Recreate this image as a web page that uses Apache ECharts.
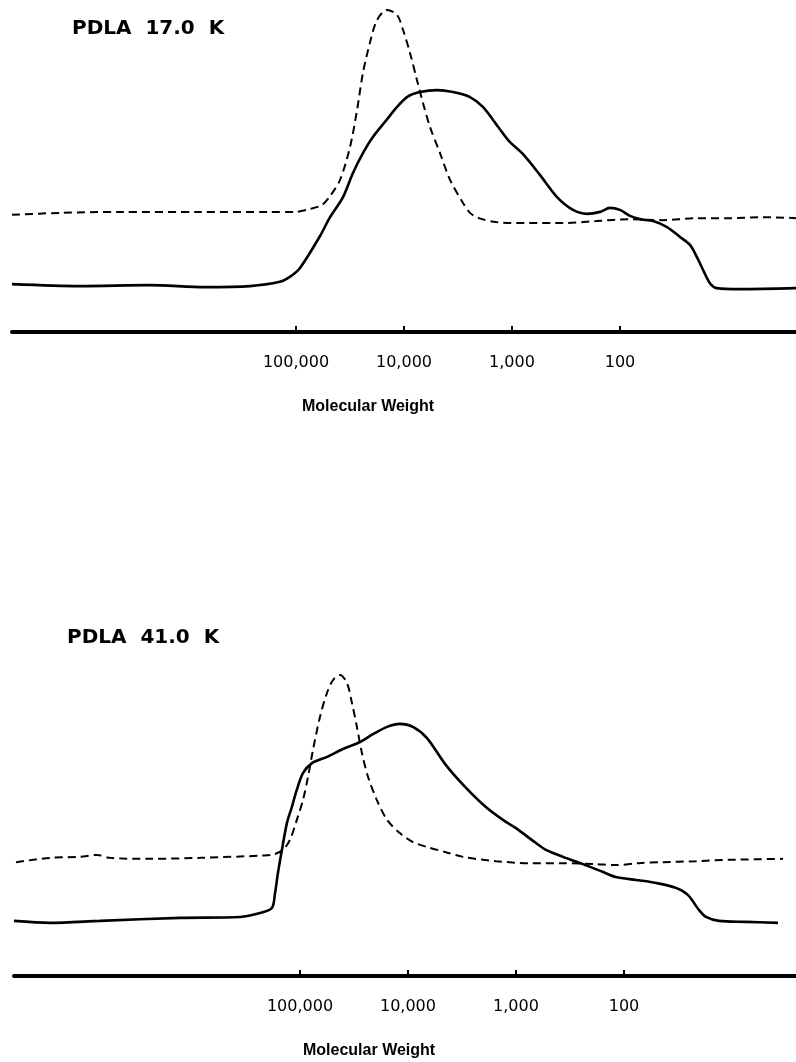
<!DOCTYPE html>
<html>
<head>
<meta charset="utf-8">
<script src="https://cdn.jsdelivr.net/npm/echarts@6/dist/echarts.min.js"></script>
<style>
html,body{margin:0;padding:0;background:#fff;}
#c{width:796px;height:1062px;}
</style>
</head>
<body>
<div id="c"></div>
<script>
// ---- Data (molecular weight, detector signal in arbitrary units) ----
var tickValues = [100000, 10000, 1000, 100];
var titles = ['PDLA  17.0  K', 'PDLA  41.0  K'];
var axisName = 'Molecular Weight';

// Panel 1: PDLA 17.0 K
var mw17Solid = [42600000,10000000,2250000,697000,267000,141000,114000,91900,59900,48400,36700,29700,24000,19400,14400,11600,9380,7110,4940,3520,2450,1860,1320,1070,791,551,383,272,202,153,124,100,80.8,65.3,49.5,36.7,27.8,22.5,19.4,17.0,14.7,12.7,7.74,2.34];
var sig17Solid = [14.5,13.9,14.2,13.6,13.9,15.2,16.7,19.4,29.1,34.8,40.9,48.2,54.2,59.1,64.4,68.2,71.2,72.7,73.3,72.7,71.2,68.2,61.8,57.9,53.9,47.6,40.9,37.0,35.8,36.4,37.6,37.0,35.2,34.2,33.6,31.8,28.8,26.4,22.7,18.8,14.8,13.3,13.0,13.3];
var mw17Dash = [42600000,15300000,4270000,774000,174000,102000,74200,57400,48400,39100,31600,27200,24000,20700,17800,14400,11600,10200,8790,7590,6670,5740,4640,3750,2840,2450,2020,1410,697,337,167,82.6,40.0,19.8,9.8,4.75,2.34];
var sig17Dash = [35.5,36.1,36.4,36.4,36.4,36.4,37.3,38.5,41.2,46.1,56.1,67.3,78.5,87.6,94.5,97.6,96.1,91.5,84.5,76.4,69.4,62.1,54.2,46.1,39.1,36.1,34.5,33.3,33.0,33.0,33.6,34.2,33.9,34.5,34.5,34.8,34.5];

// Panel 2: PDLA 41.0 K
var mw41Solid = [44500000,20600000,7110000,1290000,359000,234000,182000,170000,160000,147000,132000,119000,107000,93800,77400,56200,40000,27800,21100,15600,11900,9000,6670,4450,2900,1900,1320,1000,653,528,367,240,156,119,77.5,50.6,33.0,25.5,20.2,17.4,13.2,7.41,3.75];
var sig41Solid = [16.7,16.1,16.7,17.6,17.9,19.1,20.6,25.2,31.2,38.2,46.4,51.2,56.4,61.5,64.5,66.4,68.8,70.9,73.3,75.5,76.4,75.5,72.1,63.9,57.0,51.2,47.3,44.8,40.3,38.2,36.1,33.9,31.5,30.0,29.1,28.2,26.7,24.5,20.0,17.9,16.7,16.4,16.1];
var mw41Dash = [42600000,20600000,10900000,7590000,5740000,2450000,843000,220000,178000,144000,124000,107000,93800,84300,75800,65300,56200,49400,42600,36700,33000,29700,26700,23400,19400,15600,11900,9000,6670,4540,3100,1530,759,367,182,119,72.6,43.6,21.5,10.7,3.37];
var sig41Dash = [34.5,35.8,36.1,36.7,35.8,35.5,35.8,36.5,36.8,38.2,41.2,47.3,53.3,60.3,68.5,78.5,85.8,89.7,91.2,88.8,82.7,75.5,67.6,60.3,53.3,47.3,43.3,40.6,39.1,37.6,36.1,34.8,34.2,34.2,33.9,33.6,34.2,34.5,34.8,35.2,35.5];

function pairs(xs, ys){ return xs.map(function(x,i){ return [x, ys[i]]; }); }

var chart = echarts.init(document.getElementById('c'), null, {renderer:'canvas'});

function makeX(idx, min, max){
  return {
    type:'log', logBase:10, gridIndex: idx, inverse:true, min:min, max:max,
    axisLine:{show:true, onZero:false, lineStyle:{color:'#000', width:4}},
    axisTick:{show:true, inside:true, length:6, lineStyle:{color:'#000', width:2}, customValues: tickValues},
    axisLabel:{show:true, margin:23, color:'#000', fontFamily:'DejaVu Sans', fontSize:16,
      customValues: tickValues,
      formatter:function(v){ return Math.round(v).toLocaleString('en-US'); }},
    splitLine:{show:false}, minorTick:{show:false}, minorSplitLine:{show:false}
  };
}
function makeY(idx){
  return {type:'value', gridIndex: idx, min:0, max:100, show:false, splitLine:{show:false}};
}
function line(name, data, xi, dashed){
  return {
    name:name, type:'line', xAxisIndex:xi, yAxisIndex:xi, data:data,
    showSymbol:false, symbol:'none', smooth:0.3, animation:false,
    lineStyle:{color:'#000', width: dashed ? 2 : 2.6, type: dashed ? [8,5] : 'solid'}
  };
}

var option = {
  backgroundColor:'#fff',
  animation:false,
  title:[
    {text:titles[0], left:72, top:19, padding:0, textStyle:{fontFamily:'DejaVu Sans', fontWeight:'bold', fontSize:20, color:'#000'}},
    {text:titles[1], left:67, top:628, padding:0, textStyle:{fontFamily:'DejaVu Sans', fontWeight:'bold', fontSize:20, color:'#000'}},
    {text:axisName, left:302, top:399, padding:0, textStyle:{fontFamily:'Liberation Sans', fontWeight:'bold', fontSize:16, color:'#000'}},
    {text:axisName, left:303, top:1043, padding:0, textStyle:{fontFamily:'Liberation Sans', fontWeight:'bold', fontSize:16, color:'#000'}}
  ],
  grid:[
    {left:12, right:0, top:2, height:330},
    {left:14, right:0, top:646, height:330}
  ],
  xAxis:[ makeX(0, 2.346, 42630000), makeX(1, 2.553, 44460000) ],
  yAxis:[ makeY(0), makeY(1) ],
  series:[
    line('17.0K solid', pairs(mw17Solid, sig17Solid), 0, false),
    line('17.0K dashed', pairs(mw17Dash, sig17Dash), 0, true),
    line('41.0K solid', pairs(mw41Solid, sig41Solid), 1, false),
    line('41.0K dashed', pairs(mw41Dash, sig41Dash), 1, true)
  ]
};
chart.setOption(option);
</script>
</body>
</html>
